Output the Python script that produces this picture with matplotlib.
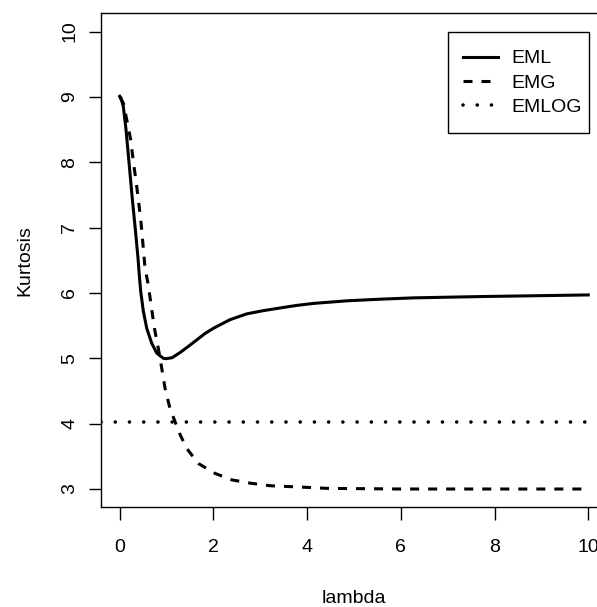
import matplotlib
matplotlib.use("Agg")
import matplotlib.pyplot as plt
from matplotlib.patches import Rectangle

# EML curve
eml_lambda = [0.0, 0.03, 0.077, 0.134, 0.199, 0.263, 0.333, 0.39, 0.42, 0.448, 0.504, 0.576,
              0.683, 0.79, 0.93, 1.0, 1.12, 1.29, 1.46, 1.64, 1.82, 2.0, 2.35, 2.71,
              3.07, 3.42, 3.78, 4.13, 4.85, 5.56, 6.27, 6.98, 7.69, 10.0]
eml_kurt = [9.01, 8.98, 8.85, 8.50, 7.99, 7.48, 6.97, 6.53, 6.25, 6.02, 5.72, 5.46,
            5.23, 5.08, 5.00, 4.995, 5.01, 5.09, 5.18, 5.28, 5.38, 5.46, 5.59, 5.68,
            5.73, 5.77, 5.81, 5.84, 5.88, 5.905, 5.925, 5.935, 5.945, 5.97]

# EMG curve
emg_lambda = [0.0, 0.08, 0.15, 0.235, 0.29, 0.348, 0.406, 0.455, 0.49, 0.54, 0.61,
              0.668, 0.74, 0.824, 0.896, 0.967, 1.07, 1.18, 1.29, 1.43, 1.68,
              2.03, 2.39, 2.78, 3.21, 3.85, 4.42, 6.0, 10.0]
emg_kurt = [9.0, 8.9, 8.65, 8.34, 8.01, 7.71, 7.38, 7.07, 6.79, 6.38, 6.12,
            5.82, 5.46, 5.15, 4.85, 4.54, 4.24, 4.03, 3.83, 3.62, 3.39,
            3.24, 3.14, 3.09, 3.05, 3.03, 3.01, 3.0, 3.0]

# EMLOG constant level
emlog_level = 4.03

x_ticks = [0, 2, 4, 6, 8, 10]
y_ticks = [3, 4, 5, 6, 7, 8, 9, 10]

plt.rcParams['font.family'] = ['Liberation Sans', 'DejaVu Sans']

W, H = 597, 607
fig = plt.figure(figsize=(W / 100, H / 100), dpi=100)
left_px, right_px, top_px, bot_px = 101, 607, 13.3, 507.3
axw, axh = right_px - left_px, bot_px - top_px
ax = fig.add_axes([left_px / W, 1 - bot_px / H, axw / W, axh / H])

def ax_x(px):
    return (px - left_px) / axw

def ax_y(py):
    return 1 - (py - top_px) / axh

lw = 2.2
ax.plot(eml_lambda, eml_kurt, color='black', lw=lw, linestyle='-', label='EML',
        solid_joinstyle='round')
ax.plot(emg_lambda, emg_kurt, color='black', lw=lw, linestyle=(0, (2.95, 2.95)), label='EMG')
ax.axhline(emlog_level, color='black', lw=2.6, linestyle=(0, (0.01, 3.93)),
           dash_capstyle='round', label='EMLOG')

ax.set_xlim(-0.4, 10.4)
ax.set_ylim(2.72, 10.28)
ax.set_xticks(x_ticks)
ax.set_xticklabels([str(t) for t in x_ticks])
ax.set_yticks(y_ticks)
ax.set_yticklabels([str(t) for t in y_ticks], rotation=90, va='center')

fs = 14
ax.tick_params(axis='both', direction='out', length=9, width=1.0, labelsize=fs)
ax.tick_params(axis='x', pad=14)
ax.tick_params(axis='y', pad=7.5)
for s in ax.spines.values():
    s.set_linewidth(1.0)

ax.set_xlabel('lambda', fontsize=fs, labelpad=24)
ax.set_ylabel('Kurtosis', fontsize=fs, labelpad=20)

leg = ax.legend(loc='center left', bbox_to_anchor=(ax_x(463), ax_y(83)), fontsize=fs,
                frameon=False, handlelength=1.8, handletextpad=0.7, labelspacing=0.35,
                borderpad=0, borderaxespad=0)

x0, x1 = ax_x(447.7), ax_x(589.3)
y0, y1 = ax_y(133.3), ax_y(31.7)
ax.add_patch(Rectangle((x0, y0), x1 - x0, y1 - y0, transform=ax.transAxes,
                       fill=True, facecolor='white', edgecolor='black', lw=1.0, zorder=4))
leg.set_zorder(5)

fig.savefig('out.png', dpi=100)
